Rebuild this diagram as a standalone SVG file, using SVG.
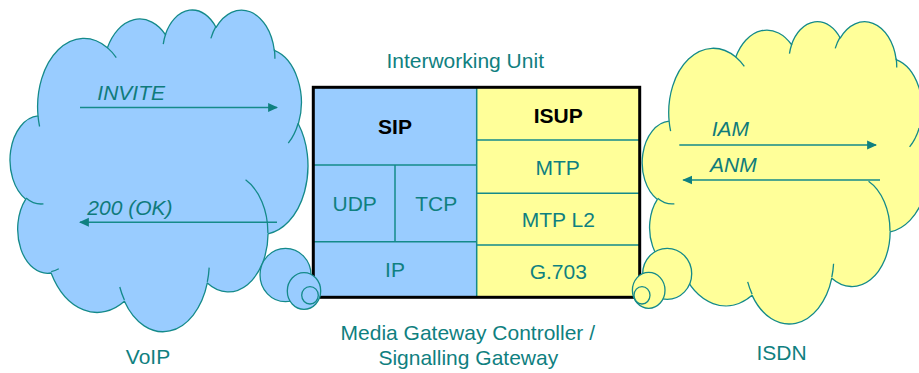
<svg xmlns="http://www.w3.org/2000/svg" xmlns:xlink="http://www.w3.org/1999/xlink" width="919" height="373" viewBox="0 0 919 373">
  <style>
    .cloud-edge { stroke: #148a8a; stroke-width: 1.3; vector-effect: non-scaling-stroke; stroke-linejoin: round; }
    .cloud-inner { fill: none; stroke: #148a8a; stroke-width: 1.3; vector-effect: non-scaling-stroke; }
    .bubble { stroke: #148a8a; stroke-width: 1.3; }
    .blue { fill: #99ccff; }
    .yellow { fill: #ffff99; }
    .grid { stroke: #148a8a; stroke-width: 1.5; fill: none; }
    .frame { fill: none; stroke: #000; stroke-width: 3; }
    .lbl { font-family: "Liberation Sans", Arial, sans-serif; font-size: 21px; fill: #0f8080; text-anchor: middle; }
    .bold { font-weight: bold; fill: #000; }
    .msg { font-family: "Liberation Sans", Arial, sans-serif; font-size: 21px; font-style: italic; fill: #0f7b7b; }
    .arrow { stroke: #158a8a; stroke-width: 1.5; fill: none; marker-end: url(#head); }
  </style>
  <defs>
    <!-- cloud outline in a 43200 x 43200 design box -->
    <path id="cloudOutline" class="cloud-edge" d="M3900 14370 A6753 9190 0 0 1 14006 5202 A5333 7267 0 0 1 22456 3431 A4365 5945 0 0 1 29834 2480 A4857 6595 0 0 1 38319 5575 A5333 7273 0 0 1 41819 15459 A6775 9220 0 0 1 37404 30201 A5785 7867 0 0 1 28556 36811 A6752 9215 0 0 1 16482 39265 A7720 10543 0 0 1 5805 35470 A4360 5918 0 0 1 2114 25547 A4345 5945 0 0 1 3900 14370 Z"/>
    <!-- short arc tails where the lobes overlap -->
    <path id="cloudTails" class="cloud-inner" d="M4693 26177 A4345 5945 0 0 1 2159 25380 M6928 34899 A4360 5918 0 0 1 5820 35280 M16478 39090 A6752 9215 0 0 1 15808 37346 M28827 34751 A6752 9215 0 0 1 28560 36660 M34129 22954 A5785 7867 0 0 1 37380 30090 M41798 15354 A5333 7273 0 0 1 40349 18031 M38324 5426 A4857 6595 0 0 1 38400 6690 M29078 3952 A4857 6595 0 0 1 29820 2340 M22141 4720 A4365 5945 0 0 1 22500 3331 M14000 5192 A6753 9190 0 0 1 15298 6538 M4127 15789 A6753 9190 0 0 1 3900 14371"/>
    <marker id="head" markerUnits="userSpaceOnUse" markerWidth="10" markerHeight="10" viewBox="0 0 9 8" refX="8" refY="4" orient="auto">
      <path d="M0 0 L9 4 L0 8 Z" fill="#0f8080"/>
    </marker>
  </defs>

  <!-- VoIP network cloud -->
  <g id="cloud-voip">
    <g transform="translate(11.24 8.97) scale(0.006866 0.007444)">
      <use xlink:href="#cloudOutline" class="blue"/>
      <use xlink:href="#cloudTails"/>
    </g>
  </g>

  <!-- ISDN network cloud -->
  <g id="cloud-isdn">
    <g transform="translate(643.4 20.7) scale(0.006597 0.006995)">
      <use xlink:href="#cloudOutline" class="yellow"/>
      <use xlink:href="#cloudTails"/>
    </g>
  </g>

  <!-- Interworking unit: protocol stacks -->
  <g id="iwu">
    <rect class="blue" x="313.3" y="87.3" width="163.4" height="210"/>
    <rect class="yellow" x="476.7" y="87.3" width="163" height="210"/>
    <path class="grid" d="M476.7 87.3 V297.3 M313.3 165 H476.7 M395 165 V241.7 M313.3 241.7 H476.7 M476.7 140 H639.7 M476.7 193.3 H639.7 M476.7 245 H639.7"/>
    <rect class="frame" x="313.3" y="87.3" width="326.4" height="210"/>
    <g id="layer-sip"><text class="lbl bold" x="395" y="134.3">SIP</text></g>
    <g id="layer-udp"><text class="lbl" x="354.7" y="210.7">UDP</text></g>
    <g id="layer-tcp"><text class="lbl" x="436.3" y="210.7">TCP</text></g>
    <g id="layer-ip"><text class="lbl" x="395" y="276.7">IP</text></g>
    <g id="layer-isup"><text class="lbl bold" x="558.3" y="122.7">ISUP</text></g>
    <g id="layer-mtp"><text class="lbl" x="557.7" y="175">MTP</text></g>
    <g id="layer-mtpl2"><text class="lbl" x="558.3" y="226.7">MTP L2</text></g>
    <g id="layer-g703"><text class="lbl" x="558.3" y="279">G.703</text></g>
  </g>

  <!-- callout bubbles between clouds and unit -->
  <g id="bubbles-voip">
    <ellipse class="bubble blue" cx="285.5" cy="275" rx="25.5" ry="26.7"/>
    <ellipse class="bubble blue" cx="304" cy="291" rx="16.7" ry="18.3"/>
    <ellipse class="bubble blue" cx="310" cy="295.3" rx="8.3" ry="8.7"/>
  </g>
  <g id="bubbles-isdn">
    <ellipse class="bubble yellow" cx="667.2" cy="273.8" rx="24.5" ry="25.5"/>
    <ellipse class="bubble yellow" cx="648.7" cy="290.3" rx="16.3" ry="18"/>
    <ellipse class="bubble yellow" cx="642" cy="295.3" rx="8" ry="8.7"/>
  </g>

  <!-- message flows -->
  <g id="connectors">
    <line class="arrow" x1="80" y1="107.5" x2="277" y2="107.5"/>
    <line class="arrow" x1="277" y1="222.3" x2="80" y2="222.3"/>
    <line class="arrow" x1="679.3" y1="145" x2="876" y2="145"/>
    <line class="arrow" x1="880" y1="180" x2="683.3" y2="180"/>
  </g>

  <g id="labels">
    <text class="msg" x="97.3" y="100">INVITE</text>
    <text class="msg" x="87.3" y="215">200 (OK)</text>
    <text class="msg" x="711.7" y="136">IAM</text>
    <text class="msg" x="710" y="171.7">ANM</text>
    <text class="lbl" x="465.2" y="68.3">Interworking Unit</text>
    <text class="lbl" x="467.8" y="340">Media Gateway Controller /</text>
    <text class="lbl" x="468.3" y="364.5">Signalling Gateway</text>
    <text class="lbl" x="148" y="364">VoIP</text>
    <text class="lbl" x="781.5" y="360">ISDN</text>
  </g>
</svg>
